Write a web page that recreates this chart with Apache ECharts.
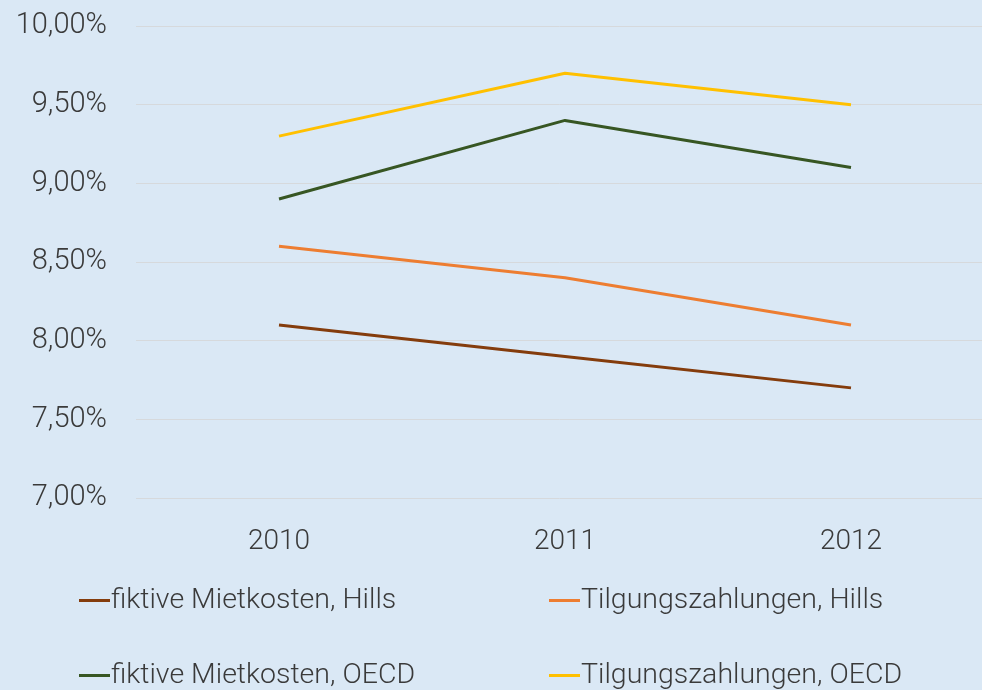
<!DOCTYPE html>
<html>
<head>
<meta charset="utf-8">
<script src="https://cdn.jsdelivr.net/npm/echarts@6/dist/echarts.min.js"></script>
<style>
  html, body { margin: 0; padding: 0; background: #dae8f5; }
  #chart { width: 982px; height: 690px; }
</style>
</head>
<body>
<div id="chart"></div>
<script>
const years = ['2010', '2011', '2012'];
const mieteHills = [8.1, 7.9, 7.7];
const tilgungHills = [8.6, 8.4, 8.1];
const mieteOecd = [8.9, 9.4, 9.1];
const tilgungOecd = [9.3, 9.7, 9.5];

const FONT = 'Roboto';
const TEXT = '#3a3a3a';

function lineSeries(name, data, color) {
  return {
    name: name,
    type: 'line',
    data: data,
    symbol: 'none',
    lineStyle: { color: color, width: 3 },
    itemStyle: { color: color }
  };
}

const legendBase = {
  orient: 'vertical',
  top: 586,
  padding: 0,
  itemWidth: 31,
  itemHeight: 3,
  itemGap: 46,
  icon: 'rect',
  textStyle: { fontFamily: FONT, fontWeight: 300, fontSize: 28.5, color: TEXT, padding: [0, 0, 0, -4] }
};

const chart = echarts.init(document.getElementById('chart'));
chart.setOption({
  backgroundColor: '#dae8f5',
  animation: false,
  grid: { left: 136, width: 858, top: 26, height: 472, outerBoundsMode: 'none' },
  legend: [
    Object.assign({ left: 79, data: ['fiktive Mietkosten, Hills', 'fiktive Mietkosten, OECD'] }, legendBase),
    Object.assign({ left: 549, data: ['Tilgungszahlungen, Hills', 'Tilgungszahlungen, OECD'] }, legendBase)
  ],
  xAxis: {
    type: 'category',
    data: years,
    boundaryGap: true,
    axisLine: { show: false },
    axisTick: { show: false },
    axisLabel: { fontFamily: FONT, fontWeight: 300, fontSize: 28, color: TEXT, margin: 30 }
  },
  yAxis: {
    type: 'value',
    min: 7,
    max: 10,
    interval: 0.5,
    axisLine: { show: false },
    axisTick: { show: false },
    splitLine: { lineStyle: { color: '#d6d9dc', width: 1 } },
    axisLabel: {
      fontFamily: FONT, fontWeight: 300, fontSize: 29, color: TEXT, margin: 29,
      formatter: v => v.toFixed(2).replace('.', ',') + '%'
    }
  },
  series: [
    lineSeries('fiktive Mietkosten, Hills', mieteHills, '#843c0c'),
    lineSeries('Tilgungszahlungen, Hills', tilgungHills, '#ed7d31'),
    lineSeries('fiktive Mietkosten, OECD', mieteOecd, '#375623'),
    lineSeries('Tilgungszahlungen, OECD', tilgungOecd, '#ffc000')
  ]
});
</script>
</body>
</html>
